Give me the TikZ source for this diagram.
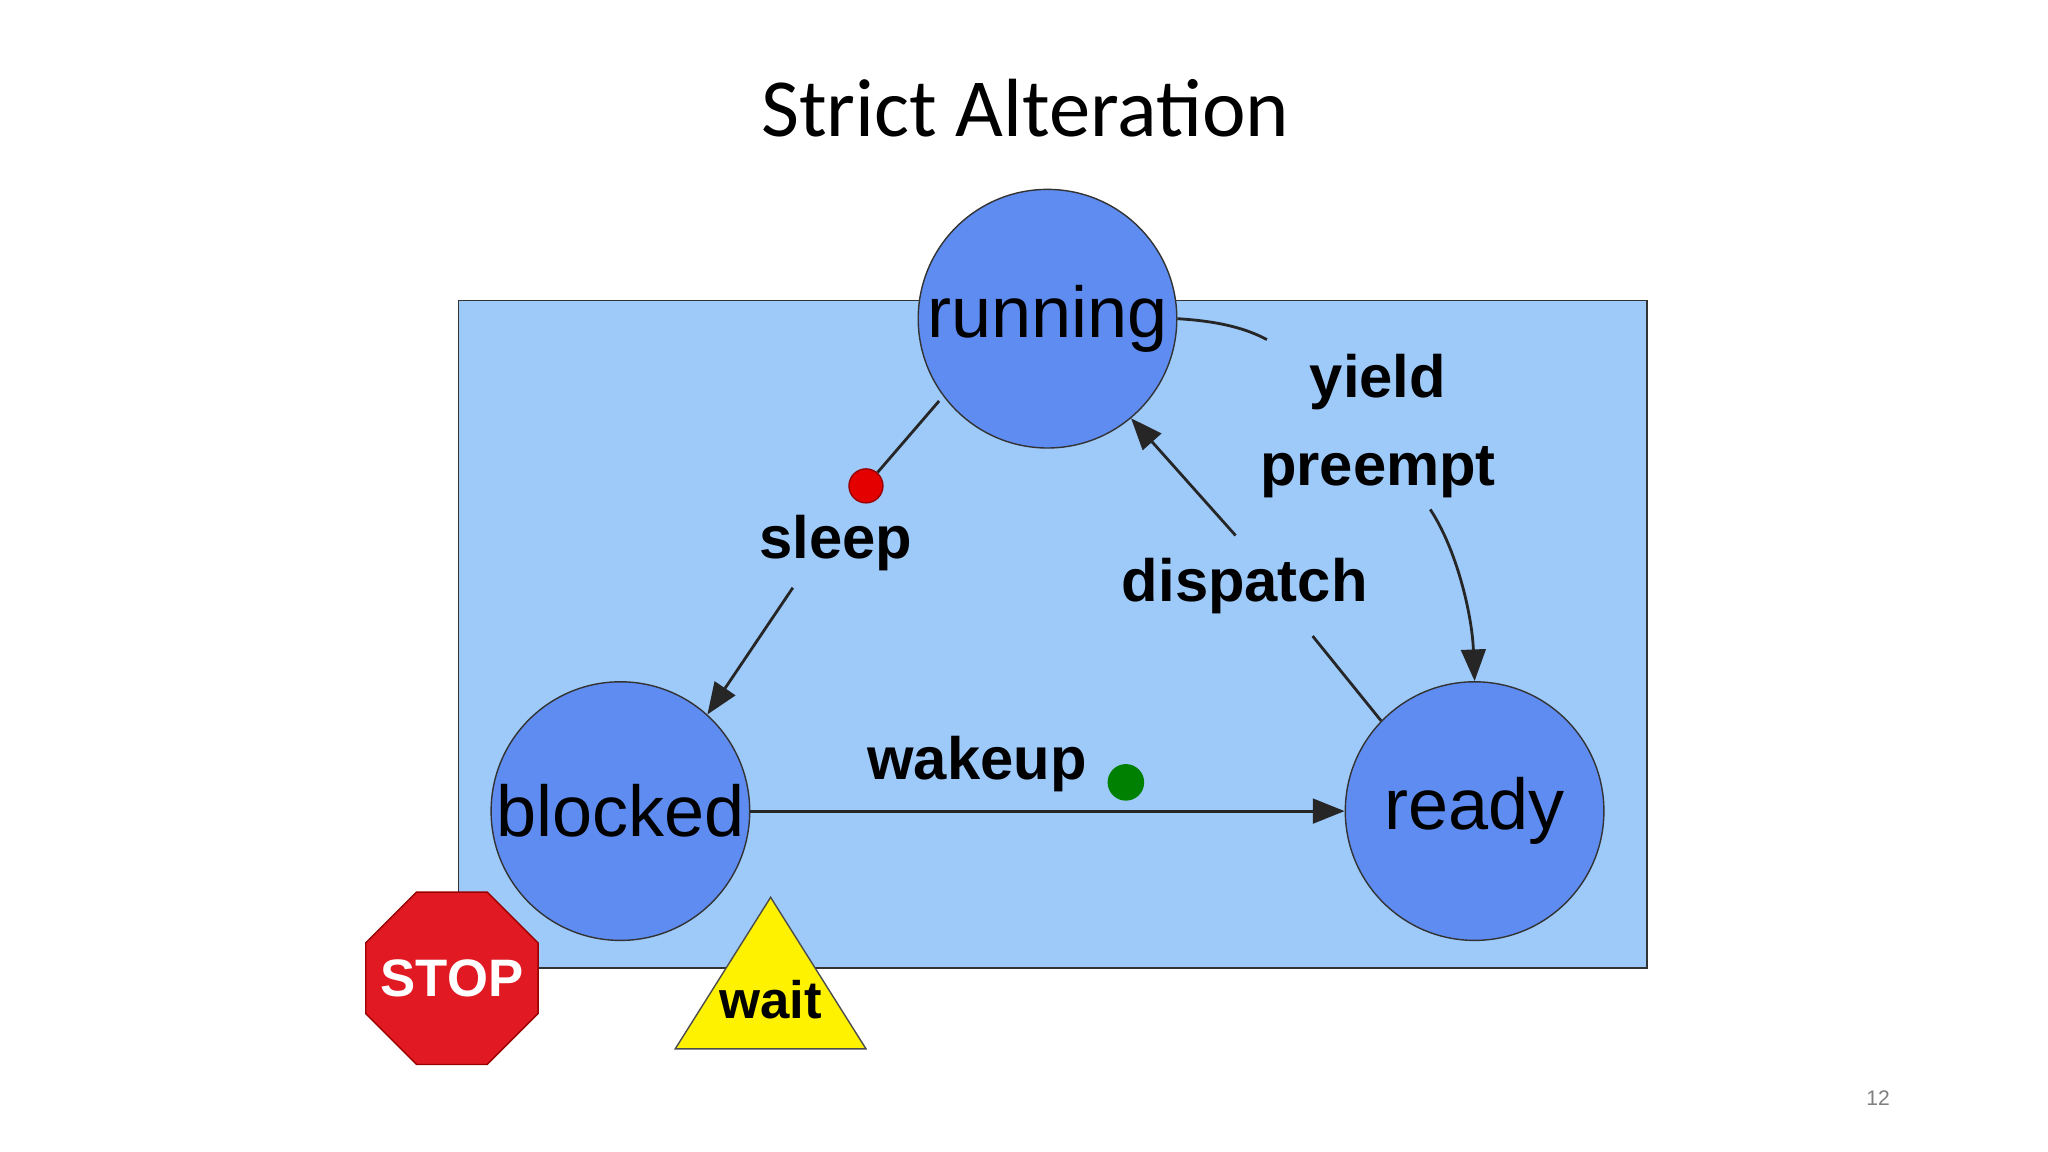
\documentclass[tikz,border=0pt]{standalone}
\usepackage{fontspec}
\setmainfont{Liberation Sans}
\newfontfamily\titlefont{Carlito}
\usetikzlibrary{arrows.meta,shapes.geometric}
\definecolor{stopred}{RGB}{225,25,35}
\begin{document}
\begin{tikzpicture}[x=0.01306cm,y=-0.01306cm,
  state/.style={circle,draw=black!80,fill={rgb,255:red,95;green,140;blue,240},minimum size=198*0.01306cm,inner sep=0pt,font=\fontsize{20.5}{24}\selectfont},
  lbl/.style={font=\bfseries\fontsize{17}{21}\selectfont},
  conn/.style={draw=black!85,line width=0.8pt},
  tip/.style={-{Triangle[length=9pt,width=7pt]}}]
\fill[white] (0,0) rectangle (1568,882);
\node[font=\titlefont\fontsize{23.5}{28}\selectfont] (title) at (785,83) {Strict Alteration};
\draw[black!80,fill={rgb,255:red,158;green,202;blue,250}] (351,230) rectangle (1261,741);
\node[state] (run) at (802,244) {running};
\node[state] (blk) at (475,621) {blocked};
\node[state] (rdy) at (1129,621) {ready};
% sleep
\node[circle,fill=red!90!black,draw=red!60!black,minimum size=26*0.01306cm,inner sep=0pt] (rd) at (663,372) {};
\node[lbl] (sl) at (640,416) {sleep};
\coordinate (r0) at (719,307);
\draw[conn] (r0) -- (rd);
\draw[conn,tip] (607,450) coordinate (s1) -- (blk.48);
% wakeup
\node[lbl] (wk) at (748,585) {wakeup};
\node[circle,fill=green!50!black,minimum size=28*0.01306cm,inner sep=0pt] (gd) at (862,599) {};
\draw[conn,tip] (blk.east) -- (rdy.west);
% dispatch
\node[lbl] (dp) at (953,449) {dispatch};
\draw[conn] (rdy.136) -- (1005,487) coordinate (d1);
\draw[conn,tip] (946,410) coordinate (d2) -- (run.-50);
% yield preempt
\node[lbl,align=center] (yp) at (1055,326) {yield\\[4pt]preempt};
\draw[conn] (run.east) .. controls (935,246) and (955,252) .. (970,260) coordinate (y1);
\draw[conn,tip] (1095,390) coordinate (y2) .. controls (1115,420) and (1127,470) .. (rdy.north);
% stop
\fill[stopred,draw=red!60!black] (319,683) -- (373,683) -- (412,722) -- (412,776) -- (373,815) -- (319,815) -- (280,776) -- (280,722) -- cycle;
\node[font=\bfseries\fontsize{15}{18}\selectfont,text=white] (stop) at (346,749) {STOP};
% wait
\fill[yellow,draw=black!70] (517,803) coordinate (w1) -- (663,803) -- (590,687) -- cycle;
\node[font=\bfseries\fontsize{15}{18}\selectfont] (wait) at (590,765) {wait};
\node[text=black!50,font=\fontsize{6}{7}\selectfont] (pg) at (1438,841) {12};
\end{tikzpicture}
\end{document}
